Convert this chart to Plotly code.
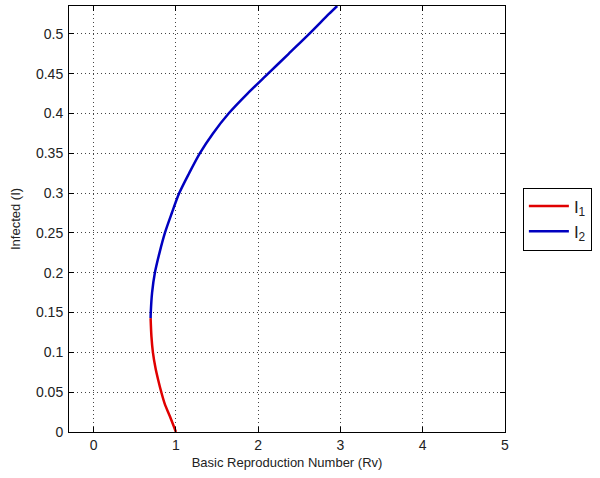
import plotly.graph_objects as go

# I1 branch (lower, red): Rv vs I
rv_i1 = [1.0, 0.925, 0.865, 0.822, 0.785, 0.752, 0.72, 0.702, 0.692]
i_i1 = [0.0, 0.02, 0.035, 0.05, 0.065, 0.08, 0.1, 0.12, 0.143]

# I2 branch (upper, blue)
rv_i2 = [0.692, 0.694, 0.71, 0.744, 0.80, 0.866, 0.95, 1.04, 1.16, 1.29, 1.45, 1.64, 1.87, 2.12, 2.37, 2.62, 2.86, 2.96]
i_i2 = [0.143, 0.15, 0.175, 0.2, 0.225, 0.25, 0.275, 0.3, 0.325, 0.35, 0.375, 0.4, 0.425, 0.45, 0.475, 0.5, 0.525, 0.535]

x_ticks = [0, 1, 2, 3, 4, 5]
y_ticks = [0, 0.05, 0.1, 0.15, 0.2, 0.25, 0.3, 0.35, 0.4, 0.45, 0.5]
y_ticktext = ["0", "0.05", "0.1", "0.15", "0.2", "0.25", "0.3", "0.35", "0.4", "0.45", "0.5"]

fig = go.Figure()
fig.add_trace(go.Scatter(x=rv_i1, y=i_i1, mode="lines", name="I<sub>1</sub>",
                         line=dict(color="#e00000", width=2.5, shape="spline", smoothing=0.8)))
fig.add_trace(go.Scatter(x=rv_i2, y=i_i2, mode="lines", name="I<sub>2</sub>",
                         line=dict(color="#0000c0", width=2.5, shape="spline", smoothing=0.8)))

axis_common = dict(showline=True, linecolor="black", linewidth=1, mirror="ticks",
                   ticks="inside", ticklen=5, tickcolor="black",
                   showgrid=True, gridcolor="#444", griddash="1px,3px", gridwidth=1,
                   zeroline=False, automargin=False,
                   tickfont=dict(family="Liberation Sans, Arial, sans-serif", size=14, color="#222"))

fig.update_layout(
    width=600, height=478,
    margin=dict(l=69, r=95, t=6, b=46),
    paper_bgcolor="white", plot_bgcolor="white",
    font=dict(family="Liberation Sans, Arial, sans-serif", size=13, color="#222"),
    xaxis=dict(range=[-0.3, 5], tickvals=x_ticks,
               title=dict(text="Basic Reproduction Number (Rv)", standoff=6,
                          font=dict(size=13)), **axis_common),
    yaxis=dict(range=[0, 0.535], tickvals=y_ticks, ticktext=y_ticktext,
               ticklabelstandoff=2,
               title=dict(text="Infected (I)", standoff=12, font=dict(size=13)), **axis_common),
    legend=dict(x=1.041, y=0.5, xanchor="left", yanchor="middle",
                bordercolor="black", borderwidth=1, bgcolor="white",
                font=dict(size=17), tracegroupgap=8, itemwidth=40),
    showlegend=True,
)

fig.write_html("out.html", config={"displayModeBar": False},
               post_script="document.body.style.margin='0';")
